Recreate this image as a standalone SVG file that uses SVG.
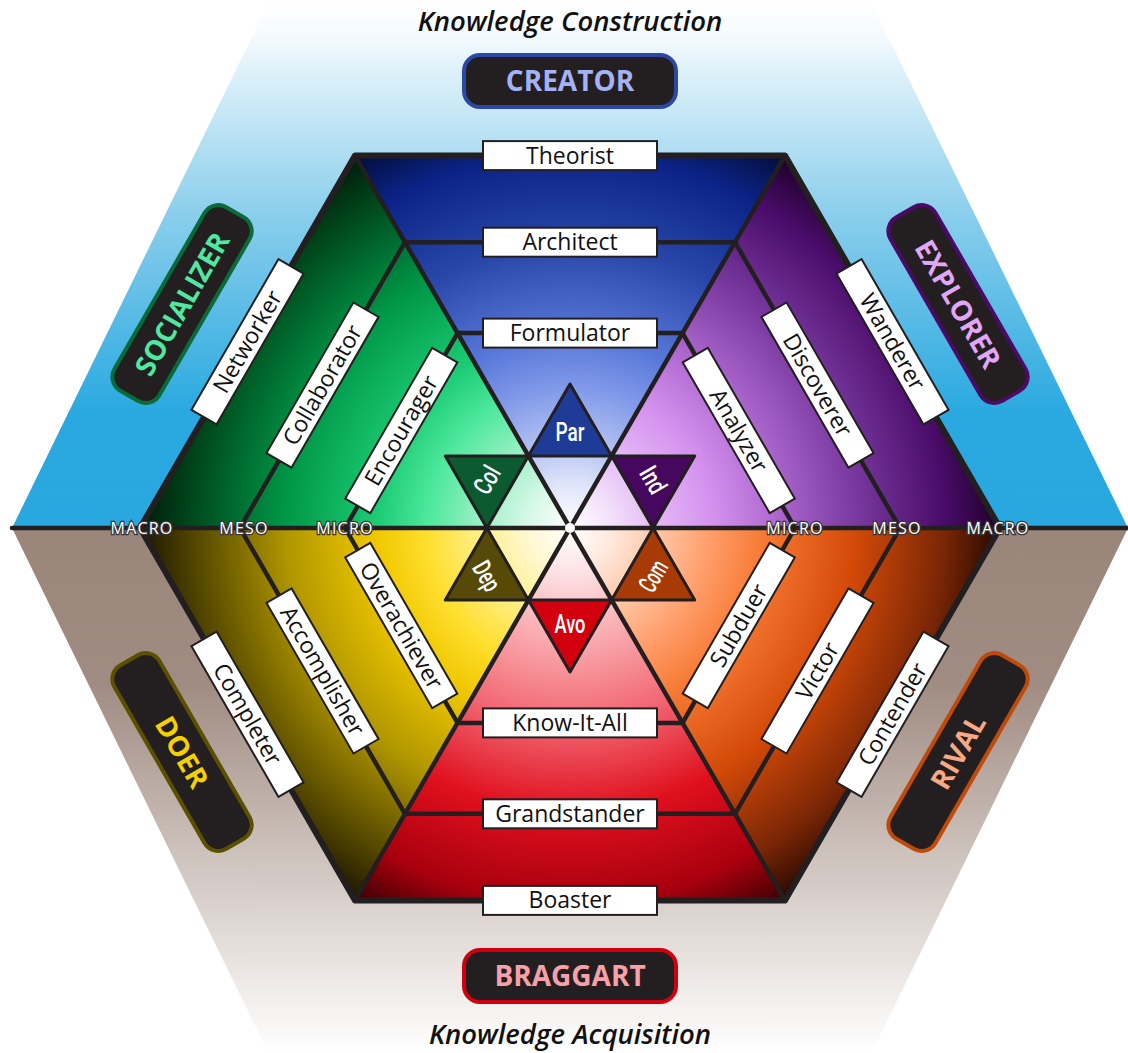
<svg xmlns="http://www.w3.org/2000/svg" width="1128" height="1053" viewBox="0 0 1128 1053">
<defs>
<linearGradient id="bgTop" gradientUnits="userSpaceOnUse" x1="0" y1="0" x2="0" y2="528">
<stop offset="0" stop-color="#ffffff"/><stop offset="0.06" stop-color="#f6fbfe"/><stop offset="0.4" stop-color="#8ccfec"/><stop offset="0.78" stop-color="#2aa9e0"/><stop offset="1" stop-color="#29a8e0"/>
</linearGradient>
<linearGradient id="bgBot" gradientUnits="userSpaceOnUse" x1="0" y1="528" x2="0" y2="1053">
<stop offset="0" stop-color="#9a857a"/><stop offset="0.3" stop-color="#a08c82"/><stop offset="0.62" stop-color="#cdc2bc"/><stop offset="0.85" stop-color="#ece7e4"/><stop offset="1" stop-color="#ffffff"/>
</linearGradient>
<radialGradient id="gBlue" gradientUnits="userSpaceOnUse" cx="570" cy="528" r="430">
<stop offset="0" stop-color="#ffffff"/><stop offset="0.1" stop-color="#e0e6fa"/><stop offset="0.2" stop-color="#b4c2f2"/><stop offset="0.33" stop-color="#7f98e8"/><stop offset="0.45" stop-color="#5676d8"/><stop offset="0.66" stop-color="#2846a8"/><stop offset="0.87" stop-color="#0b2386"/><stop offset="1" stop-color="#040c38"/>
</radialGradient>
<radialGradient id="gGreen" gradientUnits="userSpaceOnUse" cx="570" cy="528" r="430">
<stop offset="0" stop-color="#ffffff"/><stop offset="0.1" stop-color="#d8f8e8"/><stop offset="0.2" stop-color="#a0f0c8"/><stop offset="0.33" stop-color="#4ee89c"/><stop offset="0.45" stop-color="#1ccb74"/><stop offset="0.66" stop-color="#009848"/><stop offset="0.87" stop-color="#004c1e"/><stop offset="1" stop-color="#001a08"/>
</radialGradient>
<radialGradient id="gPurple" gradientUnits="userSpaceOnUse" cx="570" cy="528" r="430">
<stop offset="0" stop-color="#ffffff"/><stop offset="0.1" stop-color="#f2e0fa"/><stop offset="0.2" stop-color="#e4b8f6"/><stop offset="0.33" stop-color="#d592ee"/><stop offset="0.45" stop-color="#b670d6"/><stop offset="0.66" stop-color="#7a3aa0"/><stop offset="0.87" stop-color="#4a0c6a"/><stop offset="1" stop-color="#1e0028"/>
</radialGradient>
<radialGradient id="gOrange" gradientUnits="userSpaceOnUse" cx="570" cy="528" r="430">
<stop offset="0" stop-color="#ffffff"/><stop offset="0.1" stop-color="#ffe8dc"/><stop offset="0.2" stop-color="#ffc8a8"/><stop offset="0.33" stop-color="#ff9c68"/><stop offset="0.45" stop-color="#f67a34"/><stop offset="0.66" stop-color="#d44a08"/><stop offset="0.87" stop-color="#7a2606"/><stop offset="1" stop-color="#260800"/>
</radialGradient>
<radialGradient id="gRed" gradientUnits="userSpaceOnUse" cx="570" cy="528" r="430">
<stop offset="0" stop-color="#ffffff"/><stop offset="0.1" stop-color="#fde4e6"/><stop offset="0.2" stop-color="#fbc0c4"/><stop offset="0.33" stop-color="#f7939a"/><stop offset="0.45" stop-color="#f26874"/><stop offset="0.66" stop-color="#e0101e"/><stop offset="0.87" stop-color="#a8000e"/><stop offset="1" stop-color="#380004"/>
</radialGradient>
<radialGradient id="gYellow" gradientUnits="userSpaceOnUse" cx="570" cy="528" r="430">
<stop offset="0" stop-color="#ffffff"/><stop offset="0.1" stop-color="#fff8d0"/><stop offset="0.2" stop-color="#fff090"/><stop offset="0.33" stop-color="#ffdf30"/><stop offset="0.45" stop-color="#f0c800"/><stop offset="0.66" stop-color="#b09600"/><stop offset="0.87" stop-color="#554800"/><stop offset="1" stop-color="#1c1600"/>
</radialGradient>
<style>
.ln{fill:none;stroke:#231f20;stroke-linejoin:round;stroke-linecap:round}
.lbl rect{fill:#ffffff;stroke:#231f20;stroke-width:2}
.lbl text{font-family:"Open Sans","Noto Sans",sans-serif;font-size:23px;fill:#111111;text-anchor:middle}
.role rect{fill:#231f20;stroke-width:4}
.role text{font-family:"Open Sans","Noto Sans",sans-serif;font-weight:700;font-size:28px;text-anchor:middle}
.tri polygon{stroke:#231f20;stroke-width:3;stroke-linejoin:round}
.tri text{font-family:Roboto,"Liberation Sans",sans-serif;font-weight:500;font-size:26px;fill:#ffffff;text-anchor:middle}
.lvl{font-family:"Open Sans","Noto Sans",sans-serif;font-size:16px;fill:#ffffff;stroke:#3a3536;stroke-width:2.5px;paint-order:stroke;letter-spacing:1.2px;text-anchor:middle}
.title{font-family:"Open Sans","Noto Sans",sans-serif;font-style:italic;font-weight:600;font-size:27.5px;fill:#111111;text-anchor:middle}
</style>
</defs>

<g id="background">
<polygon points="270,0 870,0 1128,528 12,528" fill="url(#bgTop)"/>
<polygon points="12,528 1128,528 870,1056 270,1056" fill="url(#bgBot)"/>
</g>

<g id="wedges">
<polygon points="570,528 355,155.6 785,155.6" fill="url(#gBlue)"/>
<polygon points="570,528 785,155.6 1000,528" fill="url(#gPurple)"/>
<polygon points="570,528 1000,528 785,900.4" fill="url(#gOrange)"/>
<polygon points="570,528 785,900.4 355,900.4" fill="url(#gRed)"/>
<polygon points="570,528 355,900.4 140,528" fill="url(#gYellow)"/>
<polygon points="570,528 140,528 355,155.6" fill="url(#gGreen)"/>
</g>

<g id="connectors">
<line class="ln" x1="12" y1="528" x2="1128" y2="528" stroke-width="4.5"/>
<line class="ln" x1="355" y1="155.6" x2="785" y2="900.4" stroke-width="4.5"/>
<line class="ln" x1="785" y1="155.6" x2="355" y2="900.4" stroke-width="4.5"/>
<polygon class="ln" points="900,528 735,242.2 405,242.2 240,528 405,813.8 735,813.8" stroke-width="4.5"/>
<polygon class="ln" points="795,528 682.5,333.1 457.5,333.1 345,528 457.5,722.9 682.5,722.9" stroke-width="4.5"/>
<polygon class="ln" points="1000,528 785,155.6 355,155.6 140,528 355,900.4 785,900.4" stroke-width="6"/>
</g>

<g id="star" class="tri">
<g id="par"><polygon points="570,384 528.4,456 611.6,456" fill="#1f3b98"/><text x="570" y="432" dy="9" textLength="29" lengthAdjust="spacingAndGlyphs">Par</text></g>
<g id="ind"><polygon points="694.7,456 611.6,456 653.1,528" fill="#46085f"/><text transform="translate(653.1,480) rotate(60)" dy="9" textLength="27" lengthAdjust="spacingAndGlyphs">Ind</text></g>
<g id="com"><polygon points="694.7,600 653.1,528 611.6,600" fill="#a83a06"/><text transform="translate(653.1,576) rotate(-60)" dy="9" textLength="32" lengthAdjust="spacingAndGlyphs">Com</text></g>
<g id="avo"><polygon points="570,672 611.6,600 528.4,600" fill="#d2000f"/><text x="570" y="624" dy="9" textLength="31" lengthAdjust="spacingAndGlyphs">Avo</text></g>
<g id="dep"><polygon points="445.3,600 528.4,600 486.9,528" fill="#574a08"/><text transform="translate(486.9,576) rotate(60)" dy="9" textLength="30" lengthAdjust="spacingAndGlyphs">Dep</text></g>
<g id="col"><polygon points="445.3,456 486.9,528 528.4,456" fill="#0b5a30"/><text transform="translate(486.9,480) rotate(-60)" dy="9" textLength="28" lengthAdjust="spacingAndGlyphs">Col</text></g>
<circle cx="570" cy="528" r="5" fill="#ffffff"/>
</g>

<g id="levels">
<text class="lvl" x="142" y="534">MACRO</text>
<text class="lvl" x="244" y="534">MESO</text>
<text class="lvl" x="345" y="534">MICRO</text>
<text class="lvl" x="795" y="534">MICRO</text>
<text class="lvl" x="897" y="534">MESO</text>
<text class="lvl" x="998" y="534">MACRO</text>
</g>

<g id="labels">
<g id="theorist" class="lbl" transform="translate(570,155.6)"><rect x="-87" y="-14.5" width="174" height="29"/><text y="8">Theorist</text></g>
<g id="architect" class="lbl" transform="translate(570,242.2)"><rect x="-87" y="-14.5" width="174" height="29"/><text y="8">Architect</text></g>
<g id="formulator" class="lbl" transform="translate(570,333.1)"><rect x="-87" y="-14.5" width="174" height="29"/><text y="8">Formulator</text></g>
<g id="knowitall" class="lbl" transform="translate(570,722.9)"><rect x="-87" y="-14.5" width="174" height="29"/><text y="8">Know-It-All</text></g>
<g id="grandstander" class="lbl" transform="translate(570,813.8)"><rect x="-87" y="-14.5" width="174" height="29"/><text y="8">Grandstander</text></g>
<g id="boaster" class="lbl" transform="translate(570,900.4)"><rect x="-87" y="-14.5" width="174" height="29"/><text y="8">Boaster</text></g>
<g id="networker" class="lbl" transform="translate(247.5,341.8) rotate(-60)"><rect x="-87" y="-14.5" width="174" height="29"/><text y="8">Networker</text></g>
<g id="collaborator" class="lbl" transform="translate(322.5,385.1) rotate(-60)"><rect x="-87" y="-14.5" width="174" height="29"/><text y="8">Collaborator</text></g>
<g id="encourager" class="lbl" transform="translate(401.25,430.5) rotate(-60)"><rect x="-87" y="-14.5" width="174" height="29"/><text y="8">Encourager</text></g>
<g id="wanderer" class="lbl" transform="translate(892.5,341.8) rotate(60)"><rect x="-87" y="-14.5" width="174" height="29"/><text y="8">Wanderer</text></g>
<g id="discoverer" class="lbl" transform="translate(817.5,385.1) rotate(60)"><rect x="-87" y="-14.5" width="174" height="29"/><text y="8">Discoverer</text></g>
<g id="analyzer" class="lbl" transform="translate(738.75,430.5) rotate(60)"><rect x="-87" y="-14.5" width="174" height="29"/><text y="8">Analyzer</text></g>
<g id="completer" class="lbl" transform="translate(247.5,714.2) rotate(60)"><rect x="-87" y="-14.5" width="174" height="29"/><text y="8">Completer</text></g>
<g id="accomplisher" class="lbl" transform="translate(322.5,670.9) rotate(60)"><rect x="-87" y="-14.5" width="174" height="29"/><text y="8">Accomplisher</text></g>
<g id="overachiever" class="lbl" transform="translate(401.25,625.5) rotate(60)"><rect x="-87" y="-14.5" width="174" height="29"/><text y="8">Overachiever</text></g>
<g id="contender" class="lbl" transform="translate(892.5,714.2) rotate(-60)"><rect x="-87" y="-14.5" width="174" height="29"/><text y="8">Contender</text></g>
<g id="victor" class="lbl" transform="translate(817.5,670.9) rotate(-60)"><rect x="-87" y="-14.5" width="174" height="29"/><text y="8">Victor</text></g>
<g id="subduer" class="lbl" transform="translate(738.75,625.5) rotate(-60)"><rect x="-87" y="-14.5" width="174" height="29"/><text y="8">Subduer</text></g>
</g>

<g id="roles">
<g id="creator" class="role" transform="translate(570,81)"><rect x="-106" y="-26" width="212" height="52" rx="16" stroke="#2d47a5"/><text y="10" fill="#a3b1f5">CREATOR</text></g>
<g id="explorer" class="role" transform="translate(958,304) rotate(60)"><rect x="-106" y="-26" width="212" height="52" rx="16" stroke="#4a0a66"/><text y="10" fill="#e2a6f6">EXPLORER</text></g>
<g id="rival" class="role" transform="translate(958,752) rotate(-60)"><rect x="-106" y="-26" width="212" height="52" rx="16" stroke="#c04a0a"/><text y="10" fill="#f8a882">RIVAL</text></g>
<g id="braggart" class="role" transform="translate(570,976)"><rect x="-106" y="-26" width="212" height="52" rx="16" stroke="#d0000e"/><text y="10" fill="#f8a0a8">BRAGGART</text></g>
<g id="doer" class="role" transform="translate(182,752) rotate(60)"><rect x="-106" y="-26" width="212" height="52" rx="16" stroke="#5a5000"/><text y="10" fill="#f5d000">DOER</text></g>
<g id="socializer" class="role" transform="translate(182,304) rotate(-60)"><rect x="-106" y="-26" width="212" height="52" rx="16" stroke="#0a6b3a"/><text y="10" fill="#50e8a0">SOCIALIZER</text></g>
</g>

<g id="titles">
<text class="title" x="570" y="31">Knowledge Construction</text>
<text class="title" x="570" y="1044">Knowledge Acquisition</text>
</g>
</svg>
